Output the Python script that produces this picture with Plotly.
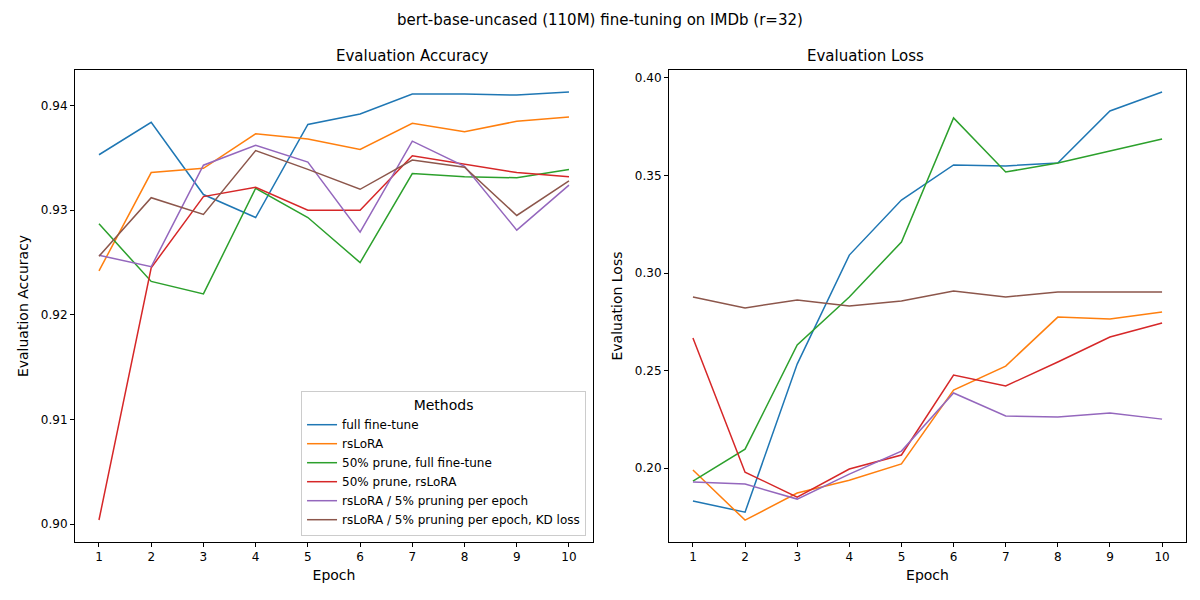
import plotly.graph_objects as go

epochs = list(range(1, 11))
methods = ["full fine-tune", "rsLoRA", "50% prune, full fine-tune", "50% prune, rsLoRA",
           "rsLoRA / 5% pruning per epoch", "rsLoRA / 5% pruning per epoch, KD loss"]
colors = ["#1f77b4", "#ff7f0e", "#2ca02c", "#d62728", "#9467bd", "#8c564b"]

acc = [
    [0.9353, 0.9384, 0.9315, 0.9293, 0.9382, 0.9392, 0.9411, 0.9411, 0.9410, 0.9413],
    [0.9242, 0.9336, 0.9340, 0.9373, 0.9368, 0.9358, 0.9383, 0.9375, 0.9385, 0.9389],
    [0.9287, 0.9232, 0.9220, 0.9321, 0.9293, 0.9250, 0.9335, 0.9332, 0.9331, 0.9339],
    [0.9004, 0.9245, 0.9313, 0.9322, 0.9300, 0.9300, 0.9352, 0.9344, 0.9336, 0.9332],
    [0.9257, 0.9246, 0.9343, 0.9362, 0.9346, 0.9279, 0.9366, 0.9342, 0.9281, 0.9324],
    [0.9256, 0.9312, 0.9296, 0.9357, 0.9339, 0.9320, 0.9348, 0.9341, 0.9295, 0.9328],
]
loss = [
    [0.1831, 0.1774, 0.2533, 0.3092, 0.3374, 0.3554, 0.3549, 0.3564, 0.3831, 0.3928],
    [0.1990, 0.1733, 0.1872, 0.1938, 0.2021, 0.2400, 0.2523, 0.2774, 0.2764, 0.2800],
    [0.1933, 0.2097, 0.2631, 0.2877, 0.3159, 0.3795, 0.3518, 0.3564, 0.3626, 0.3687],
    [0.2667, 0.1979, 0.1851, 0.1995, 0.2067, 0.2477, 0.2421, 0.2544, 0.2672, 0.2744],
    [0.1928, 0.1918, 0.1841, 0.1969, 0.2087, 0.2385, 0.2267, 0.2262, 0.2282, 0.2251],
    [0.2877, 0.2821, 0.2862, 0.2831, 0.2856, 0.2908, 0.2877, 0.2903, 0.2903, 0.2903],
]

fig = go.Figure()
for name, c, a, l in zip(methods, colors, acc, loss):
    fig.add_trace(go.Scatter(x=epochs, y=a, mode="lines", name=name,
                             line=dict(color=c, width=1.5), xaxis="x", yaxis="y"))
    fig.add_trace(go.Scatter(x=epochs, y=l, mode="lines", name=name, showlegend=False,
                             line=dict(color=c, width=1.5), xaxis="x2", yaxis="y2"))

ax = dict(showgrid=False, zeroline=False, showline=True, mirror=True, linecolor="black",
          ticks="outside", tickcolor="black", ticklen=4)
fig.update_layout(
    width=1200, height=600, template="plotly_white",
    font=dict(family="DejaVu Sans", size=12, color="black"),
    margin=dict(l=0, r=0, t=0, b=0),
    xaxis=dict(ax, domain=[0.0558, 0.4875], range=[0.54, 10.46], tickvals=epochs,
               title=dict(text="Epoch", standoff=6)),
    yaxis=dict(ax, domain=[0.11, 0.8967], range=[0.8983, 0.9434], dtick=0.01, tickformat=".2f",
               title=dict(text="Evaluation Accuracy", standoff=8)),
    xaxis2=dict(ax, domain=[0.5508, 0.9817], range=[0.54, 10.46], tickvals=epochs, anchor="y2",
                title=dict(text="Epoch", standoff=6)),
    yaxis2=dict(ax, domain=[0.11, 0.8967], range=[0.1621, 0.4041], dtick=0.05, tickformat=".2f",
                anchor="x2", title=dict(text="Evaluation Loss", standoff=8)),
    legend=dict(x=0.4817, y=0.12, xanchor="right", yanchor="bottom", bordercolor="#cccccc",
                borderwidth=1, bgcolor="rgba(255,255,255,0.8)",
                title=dict(text="Methods", side="top center"), font=dict(size=12)),
    annotations=[
        dict(text="bert-base-uncased (110M) fine-tuning on IMDb (r=32)", x=0.4933, y=0.98,
             xref="paper", yref="paper", yanchor="middle", showarrow=False, font=dict(size=15)),
        dict(text="Evaluation Accuracy", x=0.2717, y=0.92, xref="paper", yref="paper",
             yanchor="middle", showarrow=False, font=dict(size=15)),
        dict(text="Evaluation Loss", x=0.765, y=0.92, xref="paper", yref="paper",
             yanchor="middle", showarrow=False, font=dict(size=15)),
    ],
)
fig.write_html("out.html")
